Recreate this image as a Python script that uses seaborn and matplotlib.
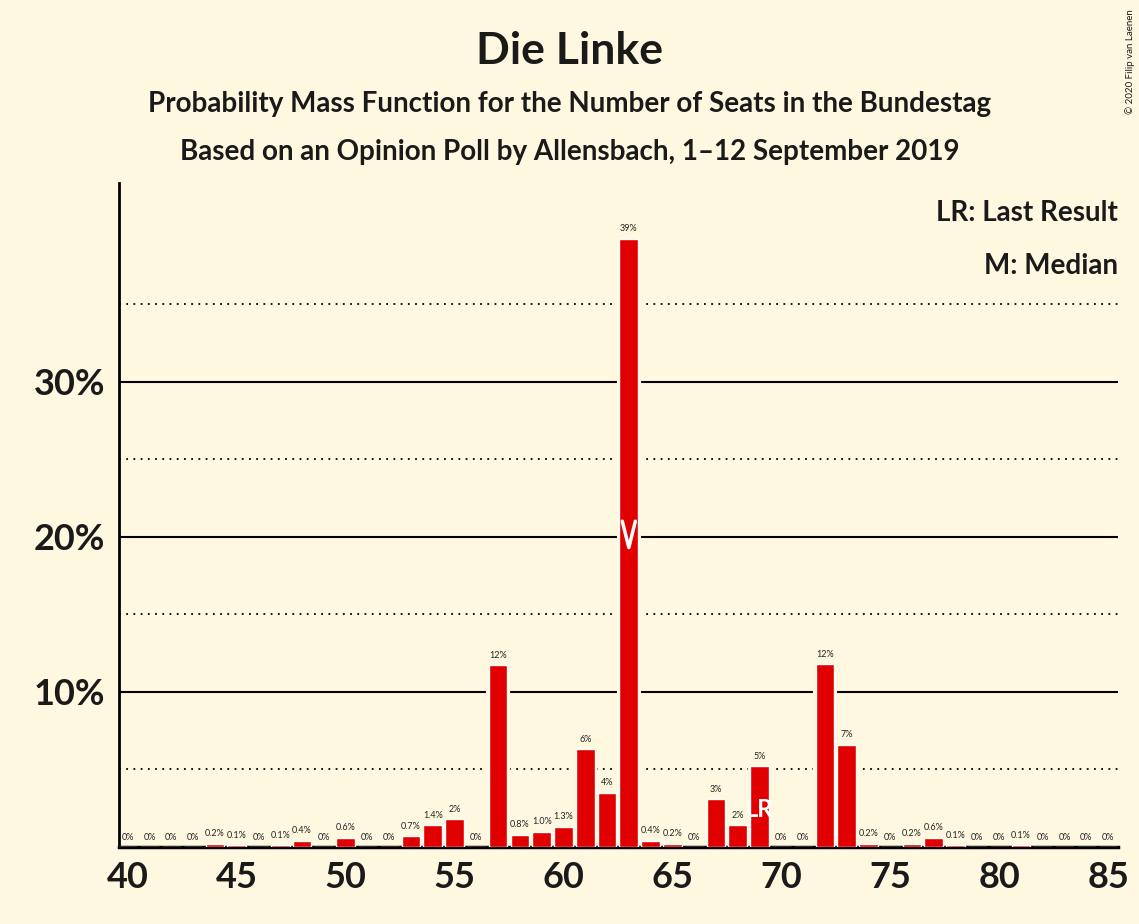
import numpy as np
import pandas as pd
import matplotlib.pyplot as plt
import seaborn as sns

seats = list(range(40, 86))
probs = [0, 0, 0, 0, 0.2, 0.1, 0, 0.1, 0.4, 0, 0.6, 0, 0, 0.7, 1.4, 1.8, 0,
         11.7, 0.8, 1.0, 1.3, 6.3, 3.5, 39.2, 0.4, 0.2, 0, 3.1, 1.4, 5.2, 0, 0,
         11.8, 6.6, 0.2, 0, 0.2, 0.6, 0.1, 0, 0, 0.1, 0, 0, 0, 0]
labels = ["0%", "0%", "0%", "0%", "0.2%", "0.1%", "0%", "0.1%", "0.4%", "0%", "0.6%",
          "0%", "0%", "0.7%", "1.4%", "2%", "0%", "12%", "0.8%", "1.0%", "1.3%", "6%",
          "4%", "39%", "0.4%", "0.2%", "0%", "3%", "2%", "5%", "0%", "0%", "12%", "7%",
          "0.2%", "0%", "0.2%", "0.6%", "0.1%", "0%", "0%", "0.1%", "0%", "0%", "0%", "0%"]
last_result = 69
median = 63

BG = "#FFF8E1"
RED = "#E00000"
INK = "#1a1a1a"

sns.set_style("white")
plt.rcParams["font.family"] = ["Lato", "DejaVu Sans"]
plt.rcParams["text.color"] = INK

fig = plt.figure(figsize=(11.39, 9.24), dpi=100, facecolor=BG)
ax = fig.add_axes([0.1045, 0.0833, 0.877, 0.7187], facecolor=BG)

for y in [10, 20, 30]:
    ax.axhline(y, color="black", lw=1.5, zorder=1)
for y in [5, 15, 25, 35]:
    ax.axhline(y, color="black", lw=1.3, ls=(0, (1, 3)), zorder=1)

df = pd.DataFrame({"seats": seats, "prob": probs})
sns.barplot(data=df, x="seats", y="prob", native_scale=True, color=RED,
            saturation=1, width=0.9, edgecolor=BG, linewidth=3, zorder=2, ax=ax)
ax.bar(seats, probs, width=0.86, color=RED, zorder=3)

for s, p, l in zip(seats, probs, labels):
    ax.text(s, p + 0.35, l, ha="center", va="bottom", fontsize=6.5, color="#222222", zorder=4)

# median marker
ax.plot([median - 0.3, median, median + 0.3], [21.0, 19.3, 21.0], color="white", lw=2.5, zorder=5)
# last result marker
ax.text(last_result - 0.05, 2.4, "LR", color="white", fontsize=17, fontweight="bold",
        ha="center", va="center", zorder=5)

ax.set_xlim(39.6, 85.45)
ax.set_ylim(0, 42.8)
ax.set_xticks(range(40, 86, 5))
ax.set_yticks([10, 20, 30])
ax.set_yticklabels(["10%", "20%", "30%"])
ax.tick_params(axis="both", labelsize=26, length=0, pad=10, labelcolor=INK)
for t in ax.get_xticklabels() + ax.get_yticklabels():
    t.set_fontweight("bold")
ax.set_xlabel("")
ax.set_ylabel("")
for side in ["top", "right"]:
    ax.spines[side].set_visible(False)
ax.spines["left"].set_linewidth(2)
ax.spines["bottom"].set_linewidth(2.5)
ax.spines["left"].set_color("black")
ax.spines["bottom"].set_color("black")

ax.text(1.0, 0.975, "LR: Last Result", transform=ax.transAxes, ha="right", va="top",
        fontsize=20, fontweight="bold")
ax.text(1.0, 0.895, "M: Median", transform=ax.transAxes, ha="right", va="top",
        fontsize=20, fontweight="bold")

fig.text(0.5, 0.945, "Die Linke", ha="center", va="center", fontsize=32, fontweight="bold")
fig.text(0.5, 0.887, "Probability Mass Function for the Number of Seats in the Bundestag",
         ha="center", va="center", fontsize=20, fontweight="bold")
fig.text(0.5, 0.835, "Based on an Opinion Poll by Allensbach, 1–12 September 2019",
         ha="center", va="center", fontsize=20, fontweight="bold")
fig.text(0.992, 0.99, "© 2020 Filip van Laenen", rotation=90, ha="center", va="top", fontsize=7)

fig.savefig("out.png", dpi=100, facecolor=BG)
